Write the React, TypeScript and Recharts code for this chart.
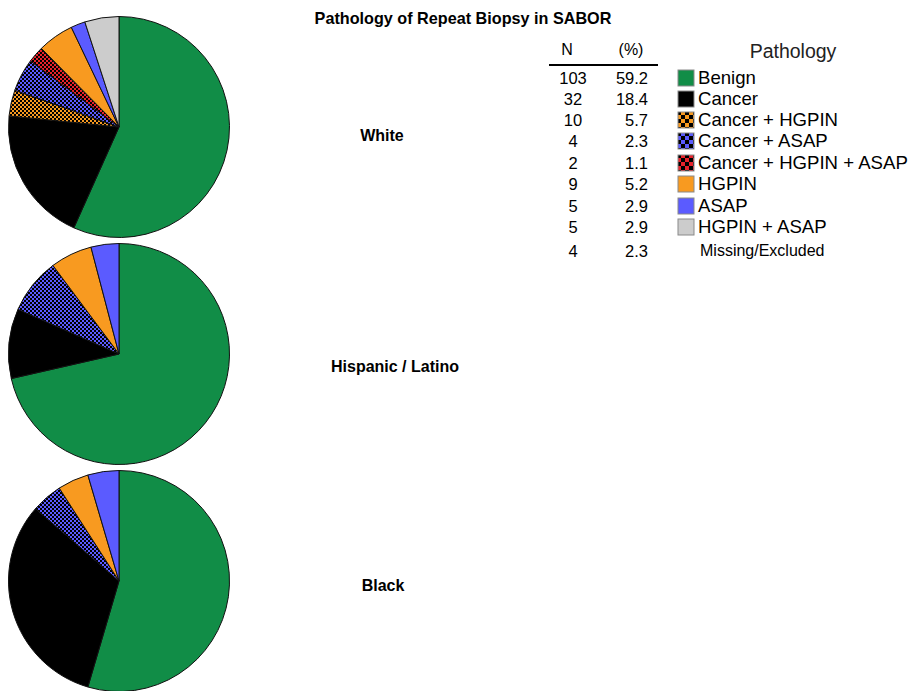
import React from 'react';
import { PieChart, Pie, Cell } from 'recharts';

const categories = [
  'Benign',
  'Cancer',
  'Cancer + HGPIN',
  'Cancer + ASAP',
  'Cancer + HGPIN + ASAP',
  'HGPIN',
  'ASAP',
  'HGPIN + ASAP',
];

// slice sizes (percent of group)
const whiteValues = [56.7, 19.9, 3.8, 4.8, 2.4, 5.3, 2.1, 5.0];
const hispanicValues = [35, 5, 0, 4, 0, 3, 2, 0];
const blackValues = [12, 7, 0, 1, 0, 1, 1, 0];

const groupNames = ['White', 'Hispanic / Latino', 'Black'];

// summary table
const nValues = ['103', '32', '10', '4', '2', '9', '5', '5', '4'];
const pctValues = ['59.2', '18.4', '5.7', '2.3', '1.1', '5.2', '2.9', '2.9', '2.3'];
const missingLabel = 'Missing/Excluded';

const GREEN = '#118d47';
const ORANGE = '#f89a20';
const BLUE = '#5b5bff';
const RED = '#e8232b';
const GRAY = '#cccccc';

// fill per category (patterns are checkerboards with black)
const fills = [GREEN, '#000000', 'url(#chkOrange)', 'url(#chkBlue)', 'url(#chkRed)', ORANGE, BLUE, GRAY];
const swatchFills = [GREEN, '#000000', 'url(#swOrange)', 'url(#swBlue)', 'url(#swRed)', ORANGE, BLUE, GRAY];

const FONT = "'Liberation Sans', Arial, Helvetica, sans-serif";

const toSlices = (values: number[]) =>
  values
    .map((value, i) => ({ name: categories[i], value, fill: fills[i] }))
    .filter((d) => d.value > 0);

const pies = [
  { data: toSlices(whiteValues), cy: 127 },
  { data: toSlices(hispanicValues), cy: 354 },
  { data: toSlices(blackValues), cy: 581 },
];

const labelPos = [
  { x: 382, y: 136 },
  { x: 395, y: 367 },
  { x: 383, y: 586 },
];

const rowY = [78, 99, 120, 141, 162.5, 184, 205.5, 227, 251];

function Checker({ id, color, size }: { id: string; color: string; size: number }) {
  return (
    <pattern id={id} patternUnits="userSpaceOnUse" width={size * 2} height={size * 2}>
      <rect x={0} y={0} width={size * 2} height={size * 2} fill={color} />
      <rect x={0} y={0} width={size} height={size} fill="#000" />
      <rect x={size} y={size} width={size} height={size} fill="#000" />
    </pattern>
  );
}

export default function App() {
  return (
    <div style={{ position: 'absolute', left: 0, top: 0, width: 911, height: 691, background: '#fff', fontFamily: FONT, color: '#000' }}>
      <svg width={0} height={0} style={{ position: 'absolute' }}>
        <defs>
          <Checker id="chkOrange" color={ORANGE} size={2} />
          <Checker id="chkBlue" color={BLUE} size={2} />
          <Checker id="chkRed" color={RED} size={2} />
          <Checker id="swOrange" color={ORANGE} size={4} />
          <Checker id="swBlue" color={BLUE} size={4} />
          <Checker id="swRed" color={RED} size={4} />
        </defs>
      </svg>

      <div style={{ position: 'absolute', left: 0, top: 0 }}>
        <PieChart width={911} height={691} margin={{ top: 0, right: 0, bottom: 0, left: 0 }}>
          {pies.map((p, k) => (
            <Pie
              key={k}
              data={p.data}
              dataKey="value"
              nameKey="name"
              cx={119}
              cy={p.cy}
              innerRadius={0}
              outerRadius={110.5}
              startAngle={90}
              endAngle={-270}
              stroke="#111"
              strokeWidth={1}
              isAnimationActive={false}
            >
              {p.data.map((d, i) => (
                <Cell key={i} fill={d.fill} />
              ))}
            </Pie>
          ))}
        </PieChart>
      </div>

      <div style={{ position: 'absolute', left: 263, top: 8, width: 400, textAlign: 'center', fontSize: 16.2, fontWeight: 'bold', lineHeight: '20px' }}>
        Pathology of Repeat Biopsy in SABOR
      </div>

      {groupNames.map((g, i) => (
        <div
          key={g}
          style={{ position: 'absolute', left: labelPos[i].x - 100, top: labelPos[i].y - 10, width: 200, textAlign: 'center', fontSize: 16, fontWeight: 'bold', lineHeight: '20px' }}
        >
          {g}
        </div>
      ))}

      {/* table header */}
      <div style={{ position: 'absolute', left: 537, top: 40, width: 60, textAlign: 'center', fontSize: 16, lineHeight: '20px' }}>N</div>
      <div style={{ position: 'absolute', left: 601, top: 40, width: 60, textAlign: 'center', fontSize: 16, lineHeight: '20px' }}>(%)</div>
      <div style={{ position: 'absolute', left: 693, top: 39, width: 200, textAlign: 'center', fontSize: 19.5, lineHeight: '24px', color: '#222' }}>Pathology</div>
      <div style={{ position: 'absolute', left: 549, top: 64, width: 109, height: 2, background: '#000' }} />

      {nValues.map((n, i) => (
        <React.Fragment key={i}>
          <div style={{ position: 'absolute', left: 543, top: rowY[i] - 10, width: 60, textAlign: 'center', fontSize: 16.5, lineHeight: '20px' }}>{n}</div>
          <div style={{ position: 'absolute', left: 588, top: rowY[i] - 10, width: 60, textAlign: 'right', fontSize: 16.5, lineHeight: '20px' }}>{pctValues[i]}</div>
          {i < categories.length ? (
            <>
              <svg width={18} height={18} style={{ position: 'absolute', left: 677, top: rowY[i] - 9 }}>
                <rect x={1} y={1} width={16} height={16} fill={swatchFills[i]} stroke="#8a8a8a" strokeWidth={1} />
              </svg>
              <div style={{ position: 'absolute', left: 698, top: rowY[i] - 11, fontSize: 18.6, lineHeight: '22px', whiteSpace: 'nowrap' }}>{categories[i]}</div>
            </>
          ) : (
            <div style={{ position: 'absolute', left: 700, top: rowY[i] - 10, fontSize: 16, lineHeight: '20px', whiteSpace: 'nowrap' }}>{missingLabel}</div>
          )}
        </React.Fragment>
      ))}
    </div>
  );
}
